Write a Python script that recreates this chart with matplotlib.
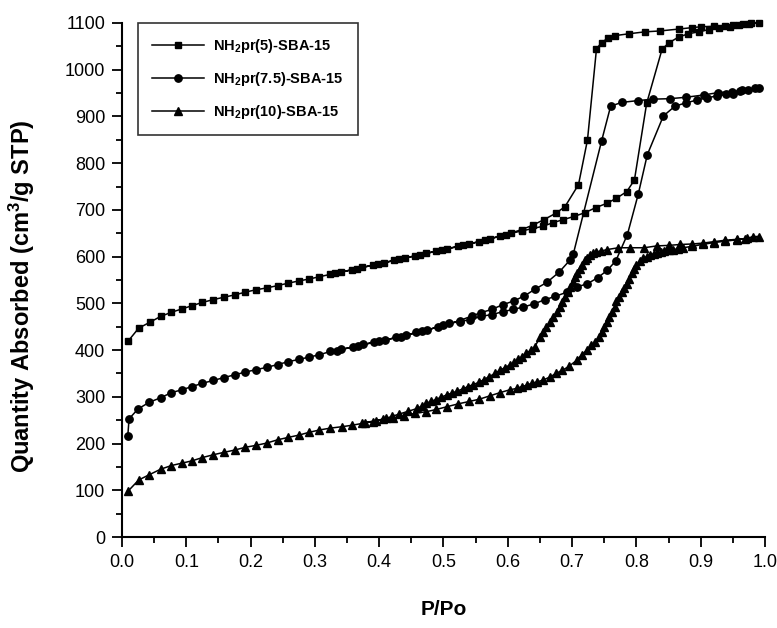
import numpy as np
import matplotlib
matplotlib.use("Agg")
import matplotlib.pyplot as plt
from matplotlib.ticker import MultipleLocator

plt.rcParams['font.family'] = ['Liberation Sans', 'DejaVu Sans']
plt.rcParams['mathtext.fontset'] = 'custom'
plt.rcParams['mathtext.rm'] = 'Liberation Sans:bold'
plt.rcParams['mathtext.bf'] = 'Liberation Sans:bold'
plt.rcParams['mathtext.it'] = 'Liberation Sans:bold'

# ---------------- data ----------------
labels = [r"NH$_2$pr(5)-SBA-15", r"NH$_2$pr(7.5)-SBA-15", r"NH$_2$pr(10)-SBA-15"]

# NH2pr(5)-SBA-15 adsorption / desorption
x_ads_5 = [0.010, 0.026, 0.044, 0.060, 0.077, 0.093, 0.109, 0.125, 0.142, 0.158, 0.175, 0.192,
           0.208, 0.225, 0.242, 0.258, 0.275, 0.291, 0.307, 0.324, 0.341, 0.357, 0.374, 0.390,
           0.407, 0.423, 0.440, 0.456, 0.473, 0.489, 0.506, 0.522, 0.539, 0.555, 0.572, 0.588,
           0.605, 0.622, 0.638, 0.655, 0.671, 0.686, 0.703, 0.720, 0.737, 0.754, 0.769, 0.785,
           0.797, 0.816, 0.840, 0.851, 0.866, 0.881, 0.897, 0.913, 0.929, 0.945, 0.960, 0.975,
           0.990]
y_ads_5 = [420, 447, 460, 472, 481, 488, 495, 502, 508, 513, 518, 524,
           529, 533, 538, 543, 548, 552, 557, 562, 567, 572, 577, 582,
           587, 592, 597, 602, 607, 612, 617, 622, 627, 632, 638, 644,
           650, 655, 660, 665, 673, 679, 686, 694, 705, 714, 725, 739,
           764, 928, 1044, 1058, 1070, 1077, 1081, 1086, 1089, 1092, 1095, 1098,
           1100]
x_des_5 = [0.979, 0.966, 0.951, 0.938, 0.920, 0.901, 0.886, 0.866, 0.837, 0.813, 0.789, 0.767,
           0.756, 0.746, 0.738, 0.724, 0.710, 0.689, 0.675, 0.656, 0.640, 0.622, 0.597, 0.564,
           0.531, 0.497, 0.464, 0.431, 0.398, 0.365, 0.332]
y_des_5 = [1100, 1097, 1095, 1094, 1093, 1092, 1090, 1087, 1083, 1081, 1077, 1073,
           1068, 1058, 1045, 850, 754, 707, 693, 679, 668, 658, 647, 635,
           624, 614, 604, 594, 584, 574, 564]

# NH2pr(7.5)-SBA-15
x_ads_75 = [0.009, 0.011, 0.025, 0.042, 0.060, 0.077, 0.093, 0.109, 0.125, 0.142, 0.158, 0.175,
            0.192, 0.208, 0.225, 0.242, 0.258, 0.275, 0.291, 0.307, 0.324, 0.341, 0.359, 0.375,
            0.392, 0.409, 0.426, 0.442, 0.458, 0.475, 0.492, 0.509, 0.525, 0.541, 0.558, 0.575,
            0.592, 0.608, 0.624, 0.641, 0.658, 0.674, 0.692, 0.707, 0.724, 0.740, 0.755, 0.768,
            0.786, 0.803, 0.817, 0.842, 0.860, 0.877, 0.894, 0.910, 0.926, 0.940, 0.951, 0.961,
            0.974, 0.990]
y_ads_75 = [216, 253, 274, 288, 298, 309, 315, 322, 329, 335, 341, 347,
            353, 358, 363, 369, 375, 380, 385, 390, 397, 402, 406, 412,
            417, 421, 427, 432, 438, 443, 450, 457, 461, 465, 472, 476,
            482, 487, 492, 499, 508, 515, 524, 535, 542, 555, 571, 591,
            647, 734, 818, 901, 922, 929, 935, 940, 944, 947, 949, 955,
            957, 960]
x_des_75 = [0.984, 0.964, 0.948, 0.927, 0.905, 0.877, 0.852, 0.826, 0.803, 0.777, 0.760, 0.746,
            0.702, 0.697, 0.680, 0.661, 0.642, 0.626, 0.609, 0.592, 0.575, 0.558, 0.544, 0.525,
            0.500, 0.467, 0.434, 0.400, 0.367, 0.334]
y_des_75 = [960, 956, 953, 951, 946, 941, 938, 937, 934, 930, 922, 848,
            606, 593, 567, 545, 530, 516, 505, 497, 487, 480, 473, 463,
            453, 440, 429, 419, 409, 399]

# NH2pr(10)-SBA-15
x_ads_10 = [0.010, 0.026, 0.042, 0.060, 0.077, 0.093, 0.109, 0.125, 0.142, 0.158, 0.175, 0.192,
            0.208, 0.225, 0.242, 0.258, 0.275, 0.291, 0.307, 0.324, 0.342, 0.357, 0.374, 0.390,
            0.406, 0.422, 0.439, 0.456, 0.473, 0.489, 0.506, 0.523, 0.540, 0.556, 0.572, 0.588,
            0.603, 0.614, 0.622, 0.630, 0.637, 0.646, 0.655, 0.665, 0.675, 0.685, 0.695, 0.707,
            0.715, 0.723, 0.730, 0.736, 0.742, 0.746, 0.750, 0.754, 0.758, 0.762, 0.766, 0.769,
            0.773, 0.777, 0.781, 0.785, 0.789, 0.793, 0.797, 0.800, 0.806, 0.811, 0.816, 0.821,
            0.827, 0.832, 0.838, 0.843, 0.850, 0.857, 0.865, 0.873, 0.886, 0.904, 0.920, 0.938,
            0.956, 0.972, 0.990]
y_ads_10 = [99, 122, 133, 145, 153, 158, 163, 170, 176, 181, 186, 192,
            196, 201, 208, 213, 218, 224, 229, 233, 236, 239, 243, 247,
            252, 254, 259, 265, 268, 273, 279, 285, 290, 295, 302, 309,
            315, 318, 322, 325, 329, 332, 336, 342, 350, 357, 365, 378,
            390, 400, 410, 418, 428, 439, 450, 461, 471, 481, 492, 504,
            514, 524, 533, 542, 553, 564, 573, 582, 590, 596, 600, 603,
            606, 608, 610, 612, 614, 615, 617, 619, 622, 626, 630, 633,
            636, 639, 643]
x_des_10 = [0.982, 0.969, 0.956, 0.938, 0.920, 0.904, 0.886, 0.868, 0.850, 0.832, 0.812, 0.790,
            0.772, 0.754, 0.745, 0.737, 0.732, 0.728, 0.724, 0.720, 0.716, 0.712, 0.708, 0.705,
            0.701, 0.697, 0.693, 0.689, 0.685, 0.681, 0.676, 0.671, 0.666, 0.660, 0.655, 0.650,
            0.642, 0.636, 0.629, 0.622, 0.616, 0.610, 0.603, 0.595, 0.588, 0.580, 0.571, 0.563,
            0.555, 0.546, 0.538, 0.530, 0.521, 0.513, 0.505, 0.496, 0.488, 0.480, 0.473, 0.466,
            0.459, 0.445, 0.431, 0.420, 0.411, 0.395, 0.378]
y_des_10 = [643, 638, 637, 635, 632, 629, 627, 626, 624, 623, 619, 619,
            619, 615, 612, 610, 607, 603, 598, 592, 583, 574, 565, 556,
            545, 535, 524, 513, 502, 492, 481, 471, 460, 449, 438, 427,
            407, 400, 393, 386, 380, 374, 368, 362, 357, 350, 343, 337,
            331, 326, 322, 317, 312, 308, 304, 299, 294, 290, 286, 280,
            275, 269, 263, 258, 254, 249, 245]

x_ticks = [0.0, 0.1, 0.2, 0.3, 0.4, 0.5, 0.6, 0.7, 0.8, 0.9, 1.0]
y_ticks = [0, 100, 200, 300, 400, 500, 600, 700, 800, 900, 1000, 1100]

# ---------------- plot ----------------
fig = plt.figure(figsize=(7.77, 6.28), dpi=100)
ax = fig.add_axes([0.157, 0.1449, 0.8275, 0.8185])

series = [
    (x_ads_5, y_ads_5, x_des_5, y_des_5, 's', 4.8),
    (x_ads_75, y_ads_75, x_des_75, y_des_75, 'o', 5.3),
    (x_ads_10, y_ads_10, x_des_10, y_des_10, '^', 5.8),
]
for (xa, ya, xd, yd, mk, ms), lab in zip(series, labels):
    xx = list(xa) + list(xd)
    yy = list(ya) + list(yd)
    ax.plot(xx, yy, color='black', lw=1.1, marker=mk, ms=ms,
            mfc='black', mec='black', label=lab, clip_on=False)

ax.set_xlim(0, 1.0)
ax.set_ylim(0, 1100)
ax.set_xticks(x_ticks)
ax.set_xticklabels([f"{v:.1f}" for v in x_ticks])
ax.set_yticks(y_ticks)
ax.set_yticklabels([str(v) for v in y_ticks])
ax.xaxis.set_minor_locator(MultipleLocator(0.05))
ax.yaxis.set_minor_locator(MultipleLocator(50))

for s in ['top', 'right']:
    ax.spines[s].set_visible(False)
for s in ['left', 'bottom']:
    ax.spines[s].set_linewidth(1.5)

ax.tick_params(axis='both', which='major', direction='out', length=7, width=1.3,
               labelsize=13, pad=5)
ax.tick_params(axis='both', which='minor', direction='out', length=4, width=1.3)

ax.set_xlabel("P/Po", fontsize=15, fontweight='bold')
ax.xaxis.set_label_coords(0.5, -0.122)
ax.set_ylabel(r"Quantity Absorbed (cm$^3$/g STP)", fontsize=17, fontweight='bold')
ax.yaxis.set_label_coords(-0.132, 0.469)

leg = ax.legend(loc='upper left', bbox_to_anchor=(0.025, 1.0), borderaxespad=0,
                frameon=True, fancybox=False,
                prop={'weight': 'bold', 'size': 10.5},
                handlelength=3.6, handletextpad=0.6, labelspacing=1.05, borderpad=0.95)
leg.get_frame().set_edgecolor('black')
leg.get_frame().set_linewidth(1.2)

fig.savefig("out.png", dpi=100)
